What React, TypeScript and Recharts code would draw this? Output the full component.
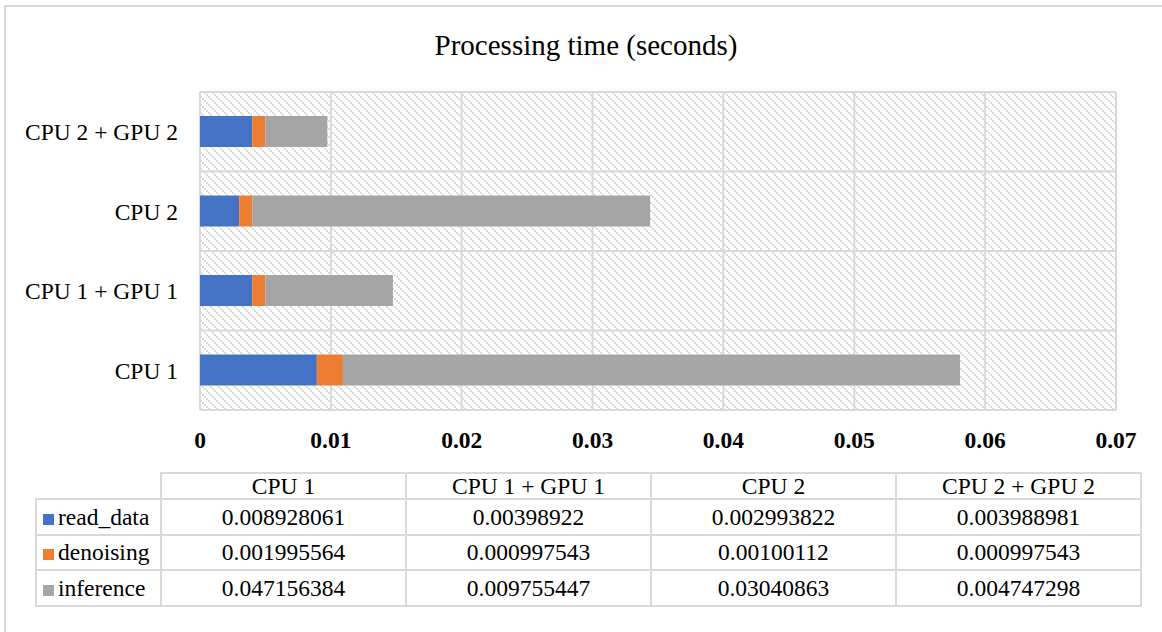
import { BarChart, Bar, XAxis, YAxis, CartesianGrid } from 'recharts';

const categories = ['CPU 1', 'CPU 1 + GPU 1', 'CPU 2', 'CPU 2 + GPU 2'];
const readData = [0.008928061, 0.00398922, 0.002993822, 0.003988981];
const denoising = [0.001995564, 0.000997543, 0.00100112, 0.000997543];
const inference = [0.047156384, 0.009755447, 0.03040863, 0.004747298];
const readDataText = ['0.008928061', '0.00398922', '0.002993822', '0.003988981'];
const denoisingText = ['0.001995564', '0.000997543', '0.00100112', '0.000997543'];
const inferenceText = ['0.047156384', '0.009755447', '0.03040863', '0.004747298'];
const xTicks = [0, 0.01, 0.02, 0.03, 0.04, 0.05, 0.06, 0.07];

const FONT = '"Times New Roman", "Liberation Serif", serif';
const GRID = '#d9d9d9';

const series = [
  { key: 'read_data', color: '#4472C4', values: readData, text: readDataText },
  { key: 'denoising', color: '#ED7D31', values: denoising, text: denoisingText },
  { key: 'inference', color: '#A5A5A5', values: inference, text: inferenceText },
];

const data = categories.map((name, i) => ({
  name,
  read_data: readData[i],
  denoising: denoising[i],
  inference: inference[i],
}));

// grid lines sit between the categories, not on them
const bandLines = ({ offset }: any) => {
  const step = offset.height / categories.length;
  return Array.from({ length: categories.length + 1 }, (_, i) => offset.top + i * step);
};

const cell: any = {
  border: `2px solid ${GRID}`,
  padding: 0,
  textAlign: 'center',
};

export default function App() {
  return (
    <div
      style={{
        position: 'absolute',
        left: 0,
        top: 0,
        width: 1162,
        height: 632,
        overflow: 'hidden',
        background: '#fff',
        fontFamily: FONT,
        color: '#000',
      }}
    >
      <svg width={0} height={0} style={{ position: 'absolute' }}>
        <defs>
          <pattern id="hatch" patternUnits="userSpaceOnUse" width={8} height={8}>
            <rect x={0} y={0} width={2} height={2} fill="#dadada" />
            <rect x={2} y={2} width={2} height={2} fill="#dadada" />
            <rect x={4} y={4} width={2} height={2} fill="#dadada" />
            <rect x={6} y={6} width={2} height={2} fill="#dadada" />
          </pattern>
        </defs>
      </svg>
      <div
        style={{
          position: 'absolute',
          left: 4,
          top: 5,
          width: 1180,
          height: 650,
          border: `2px solid ${GRID}`,
        }}
      />
      <div
        style={{
          position: 'absolute',
          left: 286,
          width: 600,
          top: 28,
          lineHeight: '34px',
          fontSize: 29,
          textAlign: 'center',
        }}
      >
        Processing time (seconds)
      </div>
      <div style={{ position: 'absolute', left: 0, top: 0 }}>
        <BarChart
          width={1162}
          height={460}
          data={data}
          layout="vertical"
          margin={{ top: 92, right: 46, bottom: 0, left: 0 }}
        >
          <CartesianGrid
            stroke={GRID}
            strokeWidth={2}
            fill="url(#hatch)"
            fillOpacity={1}
            horizontalCoordinatesGenerator={bandLines}
          />
          <XAxis
            type="number"
            domain={[0, 0.07]}
            ticks={xTicks}
            height={50}
            axisLine={false}
            tickLine={false}
            tickSize={0}
            tickMargin={21}
            interval={0}
            tick={{ fill: '#000', fontSize: 23.5, fontWeight: 'bold', fontFamily: FONT }}
          />
          <YAxis
            type="category"
            dataKey="name"
            reversed
            width={200}
            axisLine={false}
            tickLine={false}
            tickSize={0}
            tickMargin={22}
            tick={{ fill: '#000', fontSize: 23.5, fontFamily: FONT }}
          />
          {series.map((s) => (
            <Bar
              key={s.key}
              dataKey={s.key}
              stackId="t"
              fill={s.color}
              barSize={31}
              isAnimationActive={false}
            />
          ))}
        </BarChart>
      </div>
      <table
        style={{
          position: 'absolute',
          left: 35,
          top: 472,
          borderCollapse: 'collapse',
          fontSize: 23.5,
          fontFamily: FONT,
          tableLayout: 'fixed',
          width: 1104,
        }}
      >
        <colgroup>
          <col style={{ width: 125 }} />
          {categories.map((c) => (
            <col key={c} style={{ width: 245 }} />
          ))}
        </colgroup>
        <tbody>
          <tr style={{ height: 26 }}>
            <td style={{ padding: 0, border: 'none' }} />
            {categories.map((c) => (
              <td key={c} style={{ ...cell, lineHeight: '24px' }}>
                {c}
              </td>
            ))}
          </tr>
          {series.map((s) => (
            <tr key={s.key} style={{ height: 35.5 }}>
              <td style={{ ...cell, textAlign: 'left', whiteSpace: 'nowrap', lineHeight: '30px' }}>
                <span
                  style={{
                    display: 'inline-block',
                    width: 11,
                    height: 11,
                    background: s.color,
                    marginLeft: 6,
                    marginRight: 4,
                  }}
                />
                {s.key}
              </td>
              {s.text.map((t, i) => (
                <td key={i} style={{ ...cell, lineHeight: '30px' }}>
                  {t}
                </td>
              ))}
            </tr>
          ))}
        </tbody>
      </table>
    </div>
  );
}
